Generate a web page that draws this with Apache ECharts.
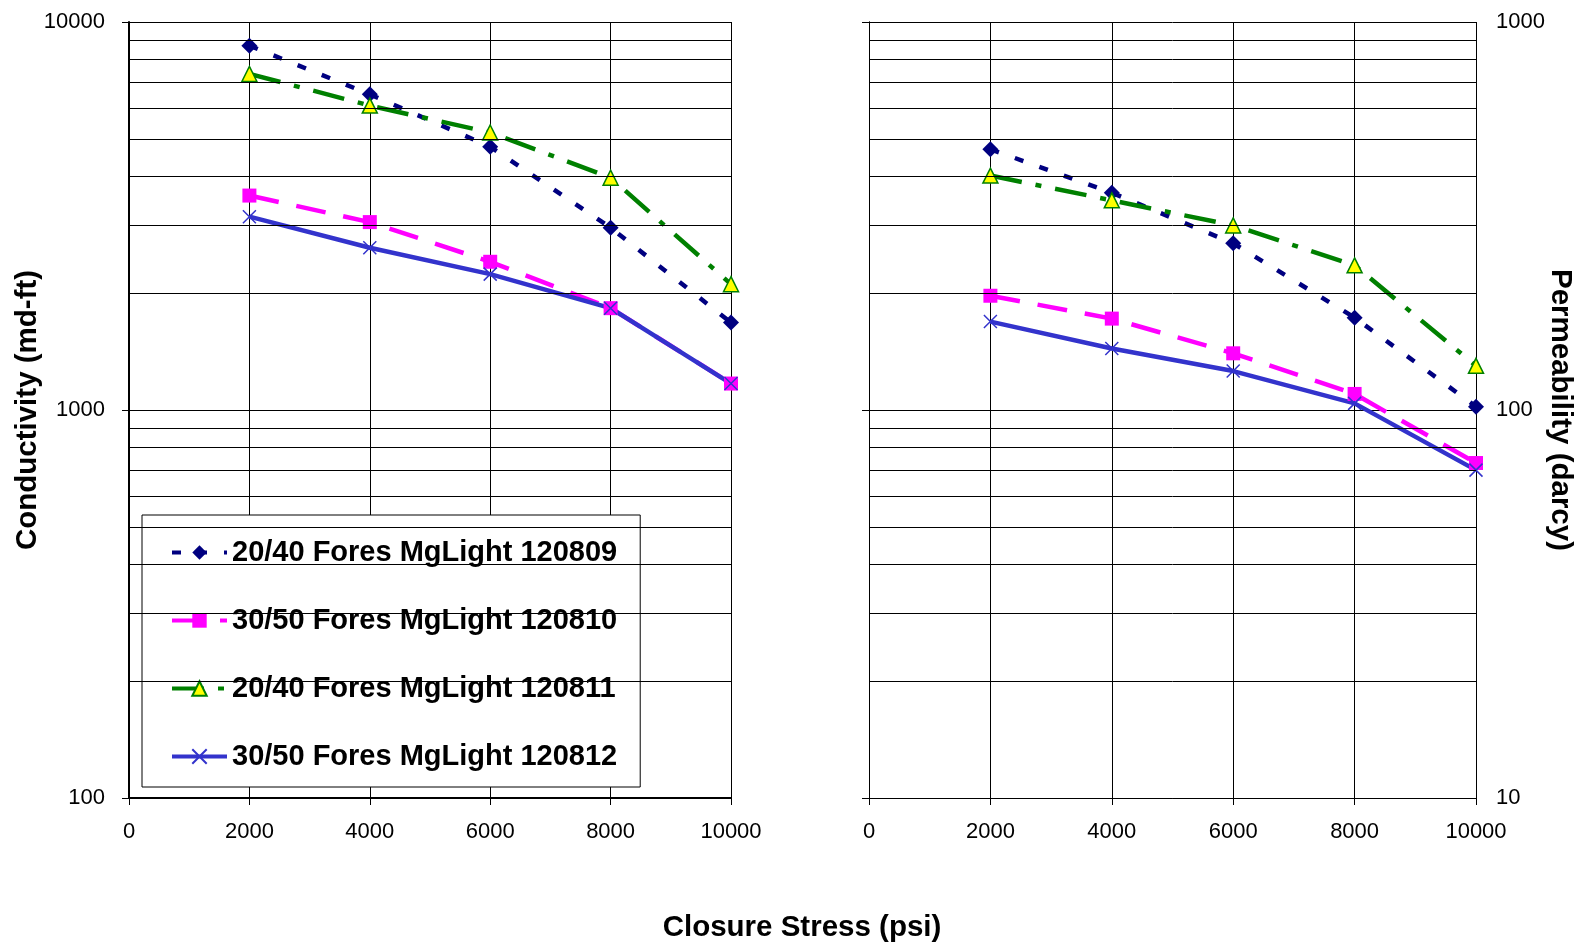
<!DOCTYPE html>
<html>
<head>
<meta charset="utf-8">
<title>Conductivity / Permeability vs Closure Stress</title>
<script src="https://cdn.jsdelivr.net/npm/echarts@6/dist/echarts.min.js"></script>
<style>
  html, body { margin: 0; padding: 0; background: #fff; }
  #main { width: 1578px; height: 945px; }
</style>
</head>
<body>
<div id="main"></div>
<script>
// closure stress (psi)
const stress = [2000, 4000, 6000, 8000, 10000];

// conductivity (md-ft), left panel
const cond120809 = [8690, 6510, 4770, 2950, 1680];
const cond120810 = [3570, 3050, 2410, 1830, 1170];
const cond120811 = [7350, 6090, 5190, 3970, 2110];
const cond120812 = [3150, 2620, 2240, 1830, 1170];

// permeability (darcy), right panel
const perm120809 = [470, 363, 269, 173, 102];
const perm120810 = [197, 172, 140, 110, 73];
const perm120811 = [402, 347, 299, 236, 130];
const perm120812 = [169, 144, 126, 104, 70];

const names = [
    '20/40 Fores MgLight 120809',
    '30/50 Fores MgLight 120810',
    '20/40 Fores MgLight 120811',
    '30/50 Fores MgLight 120812'
];

// log grid lines between the decades
const minorLeft = [200, 300, 400, 500, 600, 700, 800, 900, 2000, 3000, 4000, 5000, 6000, 7000, 8000, 9000];
const minorRight = [20, 30, 40, 50, 60, 70, 80, 90, 200, 300, 400, 500, 600, 700, 800, 900];

const FONT = '"Liberation Sans", Arial, sans-serif';

// 每条线的样式
const styles = [
    { color: '#000080', type: [9, 17], width: 4.5, symbol: 'diamond', size: 16, item: { color: '#000080' } },
    { color: '#FF00FF', type: [30, 18], width: 4.5, symbol: 'rect', size: 14, item: { color: '#FF00FF' } },
    { color: '#008000', type: [32, 14, 6, 14], width: 4.5, symbol: 'triangle', size: 15, item: { color: '#FFFF00', borderColor: '#008000', borderWidth: 1.5 } },
    { color: '#3333CC', type: 'solid', width: 4.5, symbol: 'path://M0,0L10,10M10,0L0,10', size: 13, item: { color: '#3333CC', borderColor: '#3333CC', borderWidth: 1.5 } }
];

const pairs = (ys) => stress.map((x, i) => [x, ys[i]]);

const makeSeries = (idx, ys, axis) => {
    const s = styles[idx];
    return {
        name: names[idx],
        type: 'line',
        xAxisIndex: axis,
        yAxisIndex: axis,
        data: pairs(ys),
        symbol: s.symbol,
        symbolSize: s.size,
        lineStyle: { color: s.color, width: s.width, type: s.type, cap: 'butt' },
        itemStyle: s.item,
        z: 3
    };
};

const gridLines = (axis, values) => ({
    type: 'line',
    xAxisIndex: axis,
    yAxisIndex: axis,
    data: [],
    silent: true,
    z: 1,
    markLine: {
        silent: true,
        symbol: ['none', 'none'],
        label: { show: false },
        lineStyle: { color: '#000', width: 1, type: 'solid' },
        data: values.map(v => ({ yAxis: v }))
    }
});

const xAxisBase = (grid, lineWidth) => ({
    type: 'value',
    gridIndex: grid,
    min: 0,
    max: 10000,
    interval: 2000,
    axisLine: { show: true, onZero: false, lineStyle: { color: '#000', width: lineWidth } },
    axisTick: { show: true, inside: false, length: 7, lineStyle: { color: '#000' } },
    axisLabel: { color: '#000', fontSize: 22, fontFamily: FONT, margin: 23, formatter: v => String(v) },
    splitLine: { show: true, lineStyle: { color: '#000', width: 1 } }
});

let option = {
    animation: false,
    backgroundColor: '#fff',
    grid: [
        { left: 129, top: 22, width: 602, height: 776 },
        { left: 869, top: 22, width: 607, height: 776 }
    ],
    xAxis: [xAxisBase(0, 2), xAxisBase(1, 1)],
    yAxis: [
        {
            type: 'log', logBase: 10, gridIndex: 0, min: 100, max: 10000, position: 'left',
            axisLine: { show: true, lineStyle: { color: '#000', width: 2 } },
            axisTick: { show: true, inside: false, length: 7, lineStyle: { color: '#000' } },
            axisLabel: { color: '#000', fontSize: 22, fontFamily: FONT, margin: 24, formatter: v => String(Math.round(v)) },
            splitLine: { show: true, lineStyle: { color: '#000', width: 1 } },
            minorTick: { show: false }
        },
        {
            type: 'log', logBase: 10, gridIndex: 1, min: 10, max: 1000, position: 'right',
            axisLine: { show: true, lineStyle: { color: '#000', width: 1 } },
            axisTick: { show: true, inside: false, length: 7, lineStyle: { color: '#000' } },
            axisLabel: { color: '#000', fontSize: 22, fontFamily: FONT, margin: 20, formatter: v => String(Math.round(v)) },
            splitLine: { show: true, lineStyle: { color: '#000', width: 1 } }
        },
        {
            // left edge of the right panel, ticks only
            type: 'log', logBase: 10, gridIndex: 1, min: 10, max: 1000, position: 'left',
            axisLine: { show: true, lineStyle: { color: '#000', width: 1 } },
            axisTick: { show: true, inside: false, length: 7, lineStyle: { color: '#000' } },
            axisLabel: { show: false },
            splitLine: { show: false }
        }
    ],
    legend: {
        data: names,
        orient: 'vertical',
        left: 142,
        top: 515,
        padding: [23, 23, 16, 28],
        itemGap: 39,
        itemWidth: 55,
        itemHeight: 18,
        lineStyle: { width: 4 },
        backgroundColor: '#fff',
        borderColor: '#000',
        borderWidth: 1,
        borderRadius: 0,
        textStyle: { color: '#000', fontSize: 29, fontWeight: 'bold', fontFamily: FONT }
    },
    graphic: [
        {
            type: 'text', x: 28, y: 410, rotation: Math.PI / 2,
            style: { text: 'Conductivity (md-ft)', font: 'bold 29.5px ' + FONT, fill: '#000', align: 'center', verticalAlign: 'middle' }
        },
        {
            type: 'text', x: 1560, y: 410, rotation: -Math.PI / 2,
            style: { text: 'Permeability (darcy)', font: 'bold 29.5px ' + FONT, fill: '#000', align: 'center', verticalAlign: 'middle' }
        },
        {
            type: 'text', x: 802, y: 928,
            style: { text: 'Closure Stress (psi)', font: 'bold 29.5px ' + FONT, fill: '#000', align: 'center', verticalAlign: 'middle' }
        }
    ],
    series: [
        gridLines(0, minorLeft),
        gridLines(1, minorRight),
        makeSeries(0, cond120809, 0),
        makeSeries(1, cond120810, 0),
        makeSeries(2, cond120811, 0),
        makeSeries(3, cond120812, 0),
        makeSeries(0, perm120809, 1),
        makeSeries(1, perm120810, 1),
        makeSeries(2, perm120811, 1),
        makeSeries(3, perm120812, 1)
    ]
};

const init = () => {
    let chartDom = document.getElementById('main');
    let myChart = echarts.init(chartDom, null, { renderer: 'canvas' });
    option && myChart.setOption(option);
};

init();
</script>
</body>
</html>
